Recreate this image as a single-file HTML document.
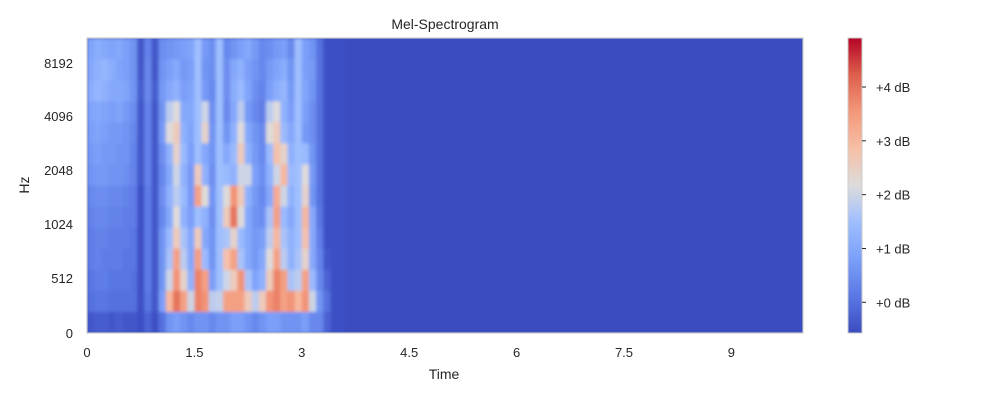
<!DOCTYPE html>
<html><head><meta charset="utf-8"><style>
body{margin:0;background:#fff;font-family:"Liberation Sans",sans-serif;}
svg text{font-family:"Liberation Sans",sans-serif;fill:#262626;}
</style></head><body>
<svg id="chart" width="1000" height="400">
<defs>
<clipPath id="pc"><rect x="87" y="38" width="716" height="295"/></clipPath>
<filter id="bl" x="-5%" y="-5%" width="110%" height="110%"><feGaussianBlur stdDeviation="1.5"/></filter>
<linearGradient id="cg" x1="0" y1="1" x2="0" y2="0">
<stop offset="0" stop-color="#3b4cc0"/><stop offset="0.125" stop-color="#5a78e4"/>
<stop offset="0.25" stop-color="#7b9ff9"/><stop offset="0.375" stop-color="#9ebeff"/>
<stop offset="0.5" stop-color="#dddcdc"/><stop offset="0.625" stop-color="#f6bfa6"/>
<stop offset="0.75" stop-color="#f4987a"/><stop offset="0.875" stop-color="#dd5f4b"/>
<stop offset="1" stop-color="#b40426"/></linearGradient>
</defs>
<text x="445" y="29" font-size="14" text-anchor="middle">Mel-Spectrogram</text>
<rect x="87" y="38" width="716" height="295" fill="#3b4cc0"/>
<g id="cells" clip-path="url(#pc)"><g id="cellsInner" filter="url(#bl)"></g></g>
<rect x="87" y="38" width="716" height="295" fill="none" stroke="#cccccc" stroke-width="1.2"/>
<g id="yaxis"></g>
<g id="xaxis"></g>
<text x="0" y="0" font-size="14" text-anchor="middle" transform="translate(29,185) rotate(-90)">Hz</text>
<text x="444" y="379" font-size="14" text-anchor="middle">Time</text>
<rect x="848" y="38" width="14" height="295" fill="url(#cg)" stroke="#cccccc"/>
<g id="cbaxis"></g>
</svg>
<script>
const xTicks=[0,1.5,3,4.5,6,7.5,9];
const xTickLabels=["0","1.5","3","4.5","6","7.5","9"];
const yTicks=[0,512,1024,2048,4096,8192];
const cbTicks=[0,1,2,3,4];
const cbTickLabels=["+0 dB","+1 dB","+2 dB","+3 dB","+4 dB"];
const timeStep=0.1;
const r0=[0.9,1.1,1.0,0.9,1.0,0.8,0.6,-0.4,0.3,-0.4,0.5,0.6,0.7,0.8,0.9,1.5,0.7,0.5,1.5,0.4,0.6,0.8,1.0,0.7,0.4,0.5,0.7,0.8,0.4,1.5,0.8,0.6,0.0,-0.5,-0.5,-0.5];
const r1=[1.0,1.2,1.3,1.1,0.9,0.8,0.6,-0.4,0.4,-0.4,0.6,0.8,1.0,0.7,0.8,1.5,0.6,0.5,1.5,0.5,1.0,1.2,0.8,0.6,0.4,0.7,0.9,1.1,0.6,1.5,0.8,0.7,0.0,-0.5,-0.5,-0.5];
const r2=[1.1,1.3,1.2,1.0,1.0,0.9,0.6,-0.3,0.4,-0.3,0.7,1.0,1.2,0.8,0.9,1.5,0.7,0.4,1.5,0.5,1.1,1.4,0.9,0.5,0.3,0.8,1.1,1.3,0.7,1.5,0.9,0.6,0.0,-0.5,-0.5,-0.5];
const r3=[0.9,1.0,0.9,0.8,0.9,0.7,0.5,-0.4,0.3,-0.4,0.6,1.8,2.2,1.0,1.0,1.5,2.0,0.5,1.5,0.4,1.0,1.8,0.7,0.4,0.2,1.8,2.2,1.2,0.8,1.5,0.8,0.5,0.0,-0.5,-0.5,-0.5];
const r4=[0.8,0.9,0.8,0.7,0.7,0.6,0.4,-0.4,0.3,-0.4,0.7,2.2,2.6,1.2,0.9,1.5,2.4,0.6,1.5,0.6,1.2,2.2,1.0,0.6,0.4,2.2,2.6,1.4,1.0,1.5,0.7,0.5,0.0,-0.5,-0.5,-0.5];
const r5=[0.7,0.8,0.7,0.7,0.6,0.6,0.3,-0.4,0.3,-0.4,0.5,1.2,2.4,1.4,0.8,1.5,1.0,0.6,1.5,1.0,1.4,2.6,1.2,0.7,0.4,1.4,2.8,2.4,1.2,1.5,1.4,0.6,0.0,-0.5,-0.5,-0.5];
const r6=[0.6,0.7,0.7,0.6,0.6,0.5,0.3,-0.4,0.3,-0.4,0.4,1.0,2.0,1.2,0.7,2.6,1.2,0.5,1.5,1.4,1.2,2.0,2.0,0.8,0.5,1.2,2.0,3.0,1.4,1.5,2.2,0.7,0.0,-0.5,-0.5,-0.5];
const r7=[0.4,0.5,0.5,0.4,0.4,0.3,0.2,-0.5,0.2,-0.4,0.5,1.2,1.8,1.4,0.7,3.4,2.2,0.6,1.5,2.2,3.6,2.6,1.2,0.7,0.4,1.0,3.2,2.0,1.2,1.5,2.4,0.6,0.0,-0.5,-0.5,-0.5];
const r8=[0.3,0.4,0.4,0.3,0.3,0.2,0.2,-0.5,0.2,-0.4,0.4,1.0,2.2,1.2,0.8,1.5,1.2,0.5,1.5,2.6,4.0,2.2,1.0,0.6,0.5,1.6,3.4,1.4,1.0,1.5,3.0,1.0,0.1,-0.5,-0.5,-0.5];
const r9=[0.2,0.3,0.3,0.2,0.2,0.2,0.1,-0.5,0.2,-0.4,0.6,1.4,2.6,1.6,1.0,2.6,1.0,0.6,1.5,1.6,2.4,1.4,1.0,0.7,0.8,1.8,3.0,1.6,1.2,1.5,2.8,1.0,0.2,-0.5,-0.5,-0.5];
const r10=[0.2,0.3,0.2,0.2,0.2,0.1,0.1,-0.5,0.2,-0.4,0.6,1.6,3.4,1.8,1.0,3.4,1.4,0.6,1.5,2.8,3.4,1.6,1.0,0.7,1.0,2.2,3.4,1.8,1.2,1.6,2.4,1.0,0.3,-0.4,-0.5,-0.5];
const r11=[0.1,0.2,0.2,0.1,0.1,0.1,0.0,-0.5,0.2,-0.4,0.6,2.0,3.6,2.4,1.2,3.8,3.4,0.8,1.5,2.0,2.6,3.6,1.6,0.9,1.2,2.6,3.8,3.4,1.6,1.8,3.4,1.4,0.4,-0.2,-0.5,-0.5];
const r12=[0.0,0.1,0.1,0.0,0.0,0.0,0.0,-0.5,0.1,-0.4,0.8,3.0,4.0,3.4,2.0,3.8,3.6,1.8,1.9,3.4,3.4,3.4,2.6,1.8,2.6,3.6,3.8,3.4,3.6,3.0,3.6,2.0,0.6,0.0,-0.5,-0.5];
const r13=[-0.4,-0.3,-0.3,-0.4,-0.3,-0.4,-0.4,-0.5,-0.2,-0.5,0.0,0.6,0.8,0.6,0.4,0.6,0.6,0.4,0.6,0.6,0.8,0.8,0.6,0.4,0.6,0.8,0.8,0.6,0.6,0.6,0.8,0.4,0.4,-0.2,-0.5,-0.5];
const rows=[r0,r1,r2,r3,r4,r5,r6,r7,r8,r9,r10,r11,r12,r13];
const NS="http://www.w3.org/2000/svg";
const X0=87,X1=803,Y0=38,Y1=333,TMAX=10,VMIN=-0.57,VMAX=4.91;
const xs=t=>X0+(X1-X0)*t/TMAX;
const yFreq=[[0,333],[512,278],[1024,224],[2048,170],[4096,116],[8192,63]];
function yHz(f){for(let i=1;i<yFreq.length;i++){if(f<=yFreq[i][0]){const a=yFreq[i-1],b=yFreq[i];return a[1]+(b[1]-a[1])*(f-a[0])/(b[0]-a[0]);}}return 63;}
const yDb=v=>Y1-(Y1-Y0)*(v-VMIN)/(VMAX-VMIN);
const cm=[[59,76,192],[90,120,228],[123,159,249],[158,190,255],[221,220,220],[246,191,166],[244,152,122],[221,95,75],[180,4,38]];
function col(v){let n=Math.max(0,Math.min(1,(v-VMIN)/(VMAX-VMIN)))*8;let i=Math.min(7,Math.floor(n)),f=n-i;const a=cm[i],b=cm[i+1];return `rgb(${a.map((c,k)=>Math.round(c+(b[k]-c)*f)).join(',')})`;}
function el(tag,attrs,parent){const e=document.createElementNS(NS,tag);for(const k in attrs)e.setAttribute(k,attrs[k]);parent.appendChild(e);return e;}
const inner=document.getElementById('cellsInner');
const rh=(Y1-Y0)/rows.length;
rows.forEach((row,ri)=>{row.forEach((v,ci)=>{
 const x=xs(ci*timeStep),w=xs((ci+1)*timeStep)-x;
 const r=el('rect',{x:x,y:Y0+ri*rh,width:w+0.6,height:rh+0.6,fill:col(v)},inner);
 
 
});});
const xa=document.getElementById('xaxis');
xTicks.forEach((t,i)=>{const tx=el('text',{x:xs(t),y:357,'font-size':13,'text-anchor':'middle'},xa);tx.textContent=xTickLabels[i];
 
 });
const ya=document.getElementById('yaxis');
yTicks.forEach(f=>{const tx=el('text',{x:73,y:yHz(f)+5,'font-size':13,'text-anchor':'end'},ya);tx.textContent=String(f);
 
 });
const ca=document.getElementById('cbaxis');
cbTicks.forEach((v,i)=>{const y=yDb(v);
 const l=el('line',{x1:862,x2:866,y1:y,y2:y,stroke:'#262626','stroke-width':1},ca);
 
 
 const tx=el('text',{x:876,y:y+5,'font-size':13},ca);tx.textContent=cbTickLabels[i];
 
 });
</script>
</body></html>
